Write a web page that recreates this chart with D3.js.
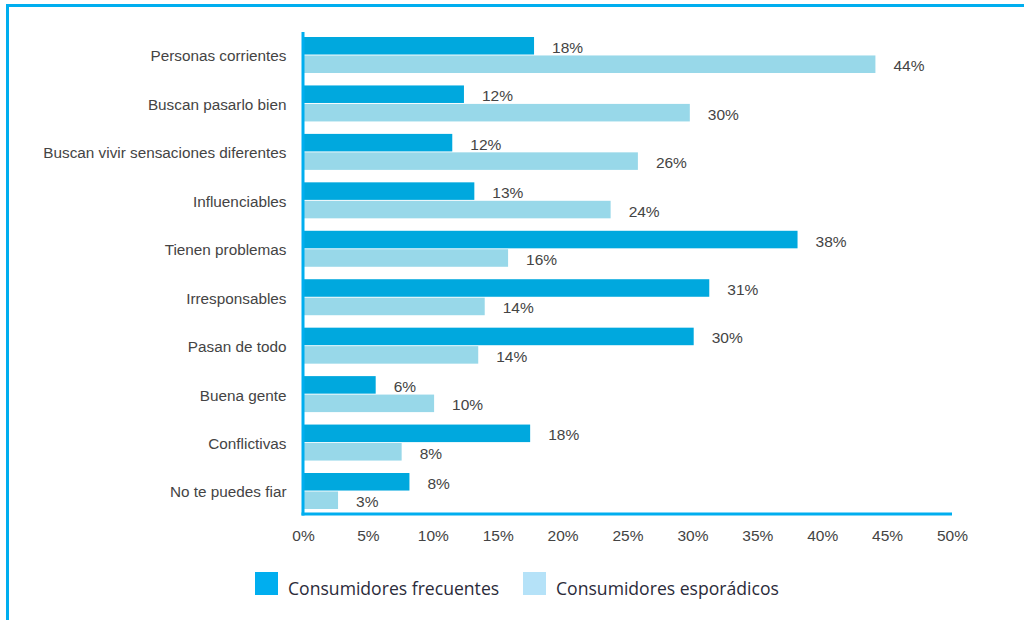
<!DOCTYPE html>
<html>
<head>
<meta charset="utf-8">
<script src="https://cdn.jsdelivr.net/npm/d3@7"></script>
<style>
  html, body { margin: 0; padding: 0; background: #ffffff; }
  svg { display: block; }
</style>
</head>
<body>
<svg id="chart" width="1024" height="620"></svg>
<script>
// ---- data ----
const categories = [
  "Personas corrientes",
  "Buscan pasarlo bien",
  "Buscan vivir sensaciones diferentes",
  "Influenciables",
  "Tienen problemas",
  "Irresponsables",
  "Pasan de todo",
  "Buena gente",
  "Conflictivas",
  "No te puedes fiar"
];
const seriesNames = ["Consumidores frecuentes", "Consumidores esporádicos"];
const frecuentes  = [17.8, 12.4, 11.5, 13.2, 38.1, 31.3, 30.1, 5.6, 17.5, 8.2];
const esporadicos = [44.1, 29.8, 25.8, 23.7, 15.8, 14.0, 13.5, 10.1, 7.6, 2.7];
const frecuentesLabels  = ["18%", "12%", "12%", "13%", "38%", "31%", "30%", "6%", "18%", "8%"];
const esporadicosLabels = ["44%", "30%", "26%", "24%", "16%", "14%", "14%", "10%", "8%", "3%"];
const xTicks = [0, 5, 10, 15, 20, 25, 30, 35, 40, 45, 50];

// ---- styles ----
const frameColor = "#00AEEF";
const barColors = ["#00A8DE", "#98D8E9"];
const legendColors = ["#00AEEF", "#B5E2F8"];
const textColor = "#444444";
const chartFont = "'Liberation Sans', Arial, Helvetica, sans-serif";
const legendFont = "'Open Sans', Lato, sans-serif";

const svg = d3.select("#chart");

// frame
svg.append("line").attr("x1", 7.5).attr("x2", 1024).attr("y1", 5.5).attr("y2", 5.5)
  .attr("stroke", frameColor).attr("stroke-width", 3);
svg.append("line").attr("x1", 7.5).attr("x2", 7.5).attr("y1", 4).attr("y2", 620)
  .attr("stroke", frameColor).attr("stroke-width", 3);

// scales
const x = d3.scaleLinear().domain([0, 50]).range([303, 952]);
const y = d3.scaleBand().domain(categories).range([37, 509]).paddingInner(0.257).paddingOuter(0);
const ySub = d3.scaleBand().domain(seriesNames).range([0, y.bandwidth()]).paddingInner(0.05);

const rows = categories.map((c, i) => ({
  cat: c,
  vals: [
    { s: seriesNames[0], v: frecuentes[i], label: frecuentesLabels[i] },
    { s: seriesNames[1], v: esporadicos[i], label: esporadicosLabels[i] }
  ]
}));

const g = svg.append("g");
const row = g.selectAll("g.row").data(rows).join("g")
  .attr("class", "row")
  .attr("transform", d => `translate(0,${y(d.cat)})`);

row.selectAll("rect").data(d => d.vals).join("rect")
  .attr("x", x(0))
  .attr("y", d => ySub(d.s))
  .attr("width", d => x(d.v) - x(0))
  .attr("height", ySub.bandwidth())
  .attr("fill", (d, i) => barColors[i]);

row.selectAll("text.val").data(d => d.vals).join("text")
  .attr("class", "val")
  .attr("x", d => x(d.v) + 18)
  .attr("y", d => ySub(d.s) + ySub.bandwidth() / 2)
  .attr("dy", "0.45em")
  .attr("font-family", chartFont)
  .attr("font-size", "15.5px")
  .attr("fill", textColor)
  .text(d => d.label);

// y axis (category labels)
const yAxis = d3.axisLeft(y).tickSize(0).tickPadding(16);
const yg = svg.append("g").attr("transform", `translate(${x(0) - 0.5},1.5)`).call(yAxis);
yg.select(".domain").remove();
yg.selectAll("text").attr("font-family", chartFont).attr("font-size", "15.3px")
  .attr("fill", textColor);

// axis lines
svg.append("line").attr("x1", x(0)).attr("x2", x(0)).attr("y1", 32).attr("y2", 515.5)
  .attr("stroke", frameColor).attr("stroke-width", 3);
svg.append("line").attr("x1", x(0) - 1.5).attr("x2", x(50)).attr("y1", 514).attr("y2", 514)
  .attr("stroke", frameColor).attr("stroke-width", 3);

// x axis tick labels
const xAxis = d3.axisBottom(x).tickValues(xTicks).tickSize(0).tickPadding(16)
  .tickFormat(d => d + "%");
const xg = svg.append("g").attr("transform", "translate(0,514)").call(xAxis);
xg.select(".domain").remove();
xg.selectAll("text").attr("font-family", chartFont).attr("font-size", "15.5px")
  .attr("fill", textColor);

// legend
const legendX = [255, 523];
const lg = svg.append("g").selectAll("g").data(seriesNames).join("g")
  .attr("transform", (d, i) => `translate(${legendX[i]},572)`);
lg.append("rect").attr("width", 23).attr("height", 23).attr("fill", (d, i) => legendColors[i]);
lg.append("text").attr("x", 33).attr("y", 23)
  .attr("font-family", legendFont).attr("font-size", "17.6px")
  .attr("fill", "#2b2b3a")
  .text(d => d);
</script>
</body>
</html>
